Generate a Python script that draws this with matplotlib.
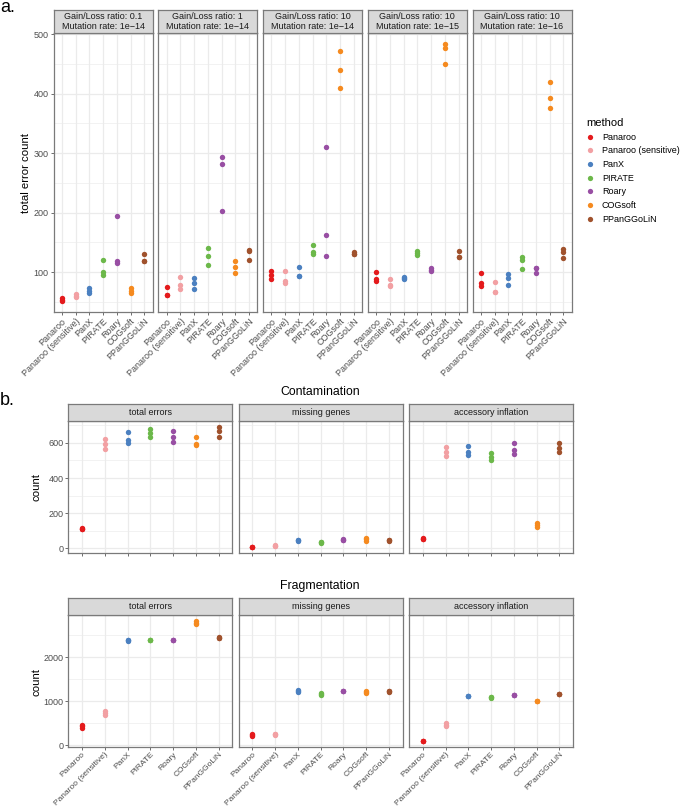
import matplotlib
matplotlib.use("Agg")
import matplotlib.pyplot as plt
from matplotlib.lines import Line2D
from matplotlib.ticker import MultipleLocator, NullLocator

plt.rcParams['font.family'] = ['Liberation Sans', 'DejaVu Sans']

# ------------------------------------------------------------------
# data
# ------------------------------------------------------------------

methods = ["Panaroo", "Panaroo (sensitive)", "PanX", "PIRATE", "Roary",
           "COGsoft", "PPanGGoLiN"]
colours = ["#E41A1C", "#F2A0A3", "#4B80C0", "#6CB84A", "#984EA3",
           "#F58A1F", "#A0522D"]

# panel a : one list of values per method, for each simulation setting
strips_a = ["Gain/Loss ratio: 0.1\nMutation rate: 1e\u221214",
            "Gain/Loss ratio: 1\nMutation rate: 1e\u221214",
            "Gain/Loss ratio: 10\nMutation rate: 1e\u221214",
            "Gain/Loss ratio: 10\nMutation rate: 1e\u221215",
            "Gain/Loss ratio: 10\nMutation rate: 1e\u221216"]

gl01_m14 = [[52, 54, 56], [58, 60, 63], [65, 69, 74], [96, 101, 120],
            [116, 118, 194], [65, 69, 73], [118, 119, 131]]
gl1_m14 = [[75, 61, 61], [91, 79, 71], [90, 82, 72], [140, 127, 112],
           [293, 281, 203], [118, 109, 99], [137, 135, 120]]
gl10_m14 = [[102, 95, 89], [102, 85, 82], [109, 94, 94], [145, 134, 130],
            [311, 163, 127], [471, 440, 410], [134, 131, 130]]
gl10_m15 = [[101, 88, 85], [89, 78, 76], [89, 90, 91], [135, 132, 129],
            [107, 104, 102], [484, 477, 450], [135, 125, 125]]
gl10_m16 = [[99, 82, 76], [83, 67, 67], [97, 90, 79], [125, 121, 106],
            [107, 99, 107], [420, 393, 376], [139, 134, 123]]

# panel b
strips_b = ["total errors", "missing genes", "accessory inflation"]

cont_total = [[108, 111, 113], [623, 596, 566], [662, 619, 598],
              [680, 659, 632], [668, 634, 604], [634, 592, 586],
              [690, 666, 634]]
cont_missing = [[6, 9, 10], [12, 15, 17], [43, 45, 46], [32, 35, 38],
                [47, 49, 50], [42, 50, 58], [43, 45, 47]]
cont_access = [[53, 55, 56], [575, 549, 523], [585, 550, 530],
               [540, 522, 504], [600, 562, 538], [142, 132, 123],
               [598, 574, 551]]

frag_total = [[400, 430, 460], [690, 730, 770], [2370, 2376, 2380],
              [2385, 2391, 2395], [2385, 2391, 2395], [2740, 2780, 2820],
              [2430, 2436, 2442]]
frag_missing = [[220, 240, 260], [230, 250, 260], [1220, 1235, 1245],
                [1150, 1165, 1180], [1225, 1230, 1235], [1195, 1210, 1225],
                [1215, 1225, 1235]]
frag_access = [[100, 105, 108], [440, 470, 500], [1115, 1120, 1125],
               [1070, 1085, 1095], [1130, 1135, 1140], [1003, 1008, 1012],
               [1160, 1165, 1170]]

# ------------------------------------------------------------------

W, H = 680, 809
fig = plt.figure(figsize=(W / 100, H / 100), dpi=100)

GRID = "#EBEBEB"
BORDER = "#7A7A7A"
TXT = "#4D4D4D"


def box(x0, y0, x1, y1):
  return [x0 / W, 1 - y1 / H, (x1 - x0) / W, (y1 - y0) / H]


def facet(x0, x1, y0, y1, strip_top, label, vals, ylim, major, first, xlab,
          xsize=6.5, xpad=1.5):
  ax = fig.add_axes(box(x0, y0, x1, y1))
  for i, (v, c) in enumerate(zip(vals, colours)):
    ax.scatter([i + 1] * len(v), v, s=15, color=c, linewidths=0, zorder=3)
  ax.set_xlim(0.4, 7.6)
  ax.set_ylim(*ylim)
  ax.set_xticks(range(1, 8))
  ax.yaxis.set_major_locator(MultipleLocator(major))
  ax.yaxis.set_minor_locator(MultipleLocator(major / 2))
  ax.xaxis.set_minor_locator(NullLocator())
  ax.grid(True, which="major", color=GRID, lw=0.9, zorder=0)
  ax.grid(True, which="minor", axis="y", color=GRID, lw=0.45, zorder=0)
  ax.set_axisbelow(True)
  for s in ax.spines.values():
    s.set_color(BORDER)
    s.set_linewidth(0.9)
  ax.tick_params(which="both", length=2, width=0.5, color="#333333",
                 labelsize=6.5, labelcolor=TXT, pad=1.5)
  ax.tick_params(axis="x", pad=xpad)
  ax.tick_params(which="minor", length=0)
  if xlab:
    ax.set_xticklabels(methods, rotation=45, ha="right", va="top",
                       rotation_mode="anchor", fontsize=xsize)
  else:
    ax.set_xticklabels([])
  if not first:
    ax.tick_params(axis="y", left=False, labelleft=False)

  st = fig.add_axes(box(x0, strip_top, x1, y0))
  st.set_facecolor("#D9D9D9")
  st.set_xticks([]); st.set_yticks([])
  for s in st.spines.values():
    s.set_color(BORDER)
    s.set_linewidth(0.9)
  st.text(0.5, 0.5, label, ha="center", va="center", fontsize=6.5,
          color="#1A1A1A", transform=st.transAxes, linespacing=1.1)
  return ax


# ---- panel a ----
a_sets = [gl01_m14, gl1_m14, gl10_m14, gl10_m15, gl10_m16]
for k, (lab, vals) in enumerate(zip(strips_a, a_sets)):
  x0 = 53.5 + k * 104.75
  facet(x0, x0 + 99, 33, 312, 10, lab, vals, (33, 502), 100, k == 0, True)

fig.text(26 / W, 1 - 173 / H, "total error count", rotation=90,
         ha="center", va="center", fontsize=8.2)

handles = [Line2D([], [], marker="o", ls="", color=c, markersize=3.8,
                  markeredgewidth=0) for c in colours]
fig.legend(handles, methods, title="method", loc="upper left",
           bbox_to_anchor=(586 / W, 1 - 118 / H), frameon=False,
           fontsize=6.5, title_fontsize=8, handlelength=0.8,
           handletextpad=0.95, labelspacing=0.52, borderpad=0,
           borderaxespad=0, alignment="left")

# ---- panel b ----
for k in range(3):
  x0 = 68.3 + k * 170.4
  facet(x0, x0 + 164, 421, 553, 404, strips_b[k],
        [cont_total, cont_missing, cont_access][k], (-27, 725), 200,
        k == 0, False)
  facet(x0, x0 + 164, 615, 747, 598, strips_b[k],
        [frag_total, frag_missing, frag_access][k], (-35, 2950), 1000,
        k == 0, True, xsize=6.0, xpad=0.8)

fig.text(320 / W, 1 - 392 / H, "Contamination", ha="center", va="center",
         fontsize=8.8)
fig.text(320 / W, 1 - 586 / H, "Fragmentation", ha="center", va="center",
         fontsize=8.8)
fig.text(37 / W, 1 - 487 / H, "count", rotation=90, ha="center",
         va="center", fontsize=8.2)
fig.text(37 / W, 1 - 682 / H, "count", rotation=90, ha="center",
         va="center", fontsize=8.2)

fig.text(0 / W, 1 - 12 / H, "a.", ha="left", va="baseline", fontsize=13)
fig.text(0 / W, 1 - 405 / H, "b.", ha="left", va="baseline", fontsize=13)

fig.savefig("out.png", dpi=100, facecolor="white")
